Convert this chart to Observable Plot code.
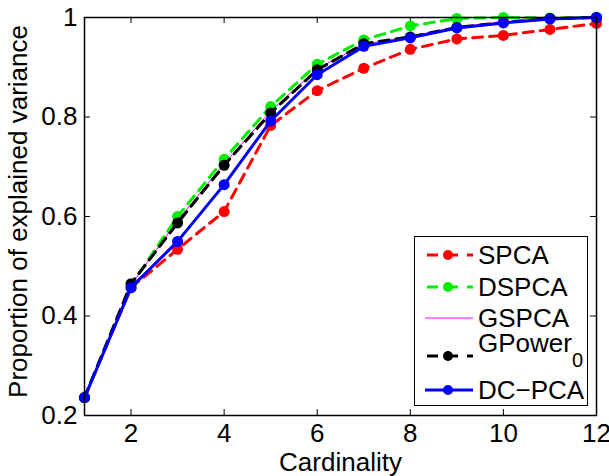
<!DOCTYPE html>
<html><head><meta charset="utf-8">
<script src="https://cdn.jsdelivr.net/npm/d3@7"></script>
<script src="https://cdn.jsdelivr.net/npm/@observablehq/plot@0.6"></script>
<style>
body{margin:0;background:#fff;font-family:"Liberation Sans",Arial,sans-serif}
#wrap{position:relative;width:609px;height:476px}
#legend{position:absolute;left:414px;top:236px;width:174px;height:170px;border:1.5px solid #000;background:#fff;box-sizing:border-box;font-size:26px;color:#000}
#legend .row{position:absolute;left:0;height:0}
#legend .row svg{position:absolute;left:8px;top:-6px}
#legend .row span{position:absolute;left:63px;top:-15px;line-height:30px;white-space:nowrap}
</style></head><body><div id="wrap"></div>
<script>
const cardinality = [1,2,3,4,5,6,7,8,9,10,11,12];
const spca   = [0.236,0.457,0.534,0.610,0.783,0.853,0.898,0.936,0.957,0.964,0.976,0.988];
const dspca  = [0.236,0.462,0.600,0.715,0.821,0.906,0.955,0.983,0.998,1.000,0.999,1.000];
const gspca  = [0.236,0.463,0.592,0.706,0.812,0.897,0.946,0.962,0.981,0.991,0.998,1.000];
const gpower = [0.236,0.465,0.587,0.703,0.808,0.895,0.947,0.961,0.980,0.990,0.998,1.000];
const dcpca  = [0.236,0.457,0.550,0.664,0.792,0.885,0.942,0.959,0.979,0.989,0.997,1.000];
const seriesNames = ["SPCA","DSPCA","GSPCA","GPower0","DC\u2212PCA"];
const xTicks = [2,4,6,8,10,12];
const yTicks = [0.2,0.4,0.6,0.8,1];

const styles = [
  {values: spca,   color:"#ff0000", width:3, dash:"10,7", dots:true},
  {values: dspca,  color:"#00ee00", width:3, dash:"10,7", dots:true},
  {values: gspca,  color:"#ff00ff", width:1, dash:null,   dots:false},
  {values: gpower, color:"#000000", width:3, dash:"10,7", dots:true},
  {values: dcpca,  color:"#0000ff", width:3, dash:null,   dots:true}
];

const W = 609, H = 476, mL = 84, mR = 13, mT = 17, mB = 61;
const plotW = W - mL - mR, plotH = H - mT - mB;

const marks = [];
styles.forEach((s, i) => {
  const data = cardinality.map((c, j) => ({x: c, y: s.values[j], series: seriesNames[i]}));
  marks.push(Plot.line(data, {x:"x", y:"y", stroke: s.color, strokeWidth: s.width, strokeDasharray: s.dash ?? undefined}));
  if (s.dots) marks.push(Plot.dot(data, {x:"x", y:"y", fill: s.color, r: 5.5}));
});

const FS = 26;
const chart = Plot.plot({
  width: W, height: H,
  marginLeft: mL, marginRight: mR, marginTop: mT, marginBottom: mB,
  style: {fontFamily: '"Liberation Sans", Arial, sans-serif', fontSize: FS + "px", color: "#000", background: "#fff", overflow: "visible"},
  x: {domain: [1, 12]},
  y: {domain: [0.2, 1]},
  marks: [
    Plot.axisX({ticks: xTicks, tickSize: 0, tickPadding: 8, fontSize: FS, label: null, tickFormat: d => String(d)}),
    Plot.axisY({ticks: yTicks, tickSize: 0, tickPadding: 7, fontSize: FS, label: null, tickFormat: d => String(d)}),
    Plot.tickX(xTicks, {x: d => d, insetTop: plotH - 6, stroke: "#000", strokeWidth: 1}),
    Plot.tickX(xTicks, {x: d => d, insetBottom: plotH - 6, stroke: "#000", strokeWidth: 1}),
    Plot.tickY(yTicks, {y: d => d, insetRight: plotW - 6, stroke: "#000", strokeWidth: 1}),
    Plot.tickY(yTicks, {y: d => d, insetLeft: plotW - 6, stroke: "#000", strokeWidth: 1}),
    ...marks,
    Plot.frame({stroke: "#000", strokeWidth: 1.5}),
    Plot.text(["Cardinality"], {text: d => d, frameAnchor: "bottom", textAnchor: "middle", lineAnchor: "middle", dy: 47, fontSize: FS}),
    Plot.text(["Proportion of explained variance"], {text: d => d, frameAnchor: "left", textAnchor: "middle", lineAnchor: "middle", dx: -66, dy: -5, rotate: -90, fontSize: FS})
  ]
});
const wrap = document.getElementById("wrap");
wrap.appendChild(chart);

// legend
const legend = document.createElement("div");
legend.id = "legend";
const rowTops = [18, 50, 81, 119, 153];
styles.forEach((s, i) => {
  const row = document.createElement("div");
  row.className = "row";
  row.style.top = rowTops[i] + "px";
  const dashAttr = s.dash ? ` stroke-dasharray="11,9" stroke-dashoffset="-2"` : "";
  const dot = s.dots ? `<circle cx="25" cy="6" r="5" fill="${s.color}"/>` : "";
  row.innerHTML = `<svg width="52" height="12"><line x1="2" x2="50" y1="6" y2="6" stroke="${s.color}" stroke-width="${s.width}"${dashAttr}/>${dot}</svg>`;
  const label = document.createElement("span");
  if (seriesNames[i] === "GPower0") {
    label.innerHTML = `GPower<span style="position:relative;font-size:20px;top:15px;left:0">0</span>`;
    label.style.top = "-28px";
  } else {
    label.textContent = seriesNames[i];
  }
  row.appendChild(label);
  legend.appendChild(row);
});
wrap.appendChild(legend);
</script>
</body></html>
